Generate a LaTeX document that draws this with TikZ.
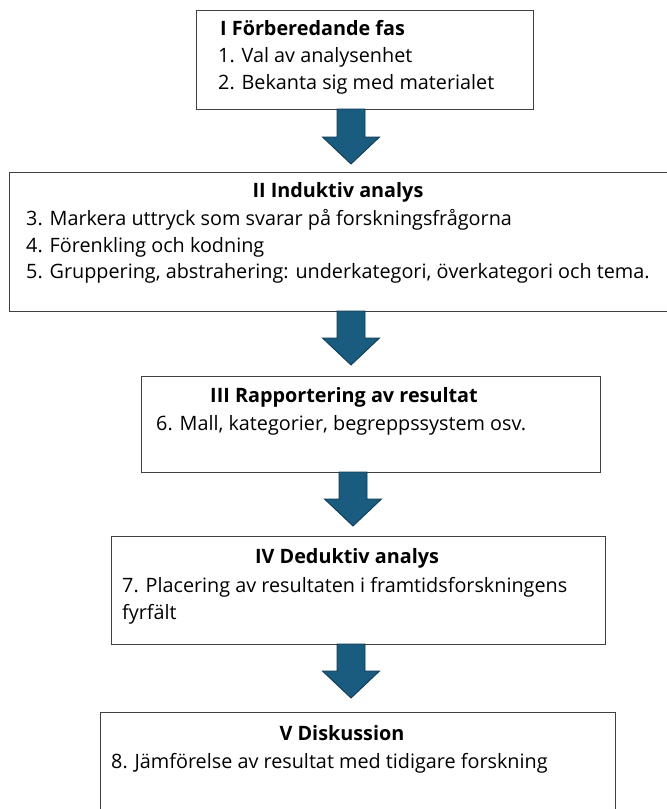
\documentclass[tikz,border=0pt]{standalone}
\usepackage{fontspec}
\setmainfont{Open Sans}[Ligatures=NoCommon]
\usetikzlibrary{calc}
\definecolor{arrowfill}{HTML}{1A5C80}
\definecolor{arrowline}{HTML}{0F3A52}
\definecolor{boxline}{HTML}{404040}
\tikzset{
  stagebox/.style={draw=boxline, line width=1.2pt, fill=white, rectangle, inner sep=0pt, anchor=north west},
  txt/.style={anchor=base west, inner sep=0pt, font=\fontsize{19.8}{22}\selectfont},
  ttl/.style={anchor=base, inner sep=0pt, font=\fontsize{19.8}{22}\selectfont\bfseries},
  blockarrow/.style={fill=arrowfill, draw=arrowline, line width=0.9pt, line join=miter},
}
\newcommand{\stagearrow}[2]{%
  \draw[blockarrow] let \p1=(#1), \p2=(#2) in
    (\x1-14pt,\y1) -- (\x1-14pt,\y2+27pt) -- (\x1-28.5pt,\y2+27pt) -- (\x2,\y2)
    -- (\x1+28.5pt,\y2+27pt) -- (\x1+14pt,\y2+27pt) -- (\x1+14pt,\y1) -- cycle;}
\begin{document}
\begin{tikzpicture}[x=1pt,y=-1pt]
\useasboundingbox (0,0) rectangle (667,809);
\clip (0,0) rectangle (667,809);
% boxes
\node[stagebox, minimum width=337pt, minimum height=99pt] (b1) at (196,10) {};
\node[stagebox, minimum width=680pt, minimum height=139pt] (b2) at (9,172) {};
\node[stagebox, minimum width=459pt, minimum height=96pt] (b3) at (141,376) {};
\node[stagebox, minimum width=494pt, minimum height=108pt] (b4) at (111,536) {};
\node[stagebox, minimum width=515pt, minimum height=120pt] (b5) at (100,712) {};
% texts box I
\node[txt, font=\fontsize{19.8}{22}\selectfont\bfseries] (t1) at (220,35) {I Förberedande fas};
\node[txt] (t1a) at (218,62) {1. Val av analysenhet};
\node[txt] (t1b) at (218,89) {2. Bekanta sig med materialet};
% box II
\node[ttl] (t2) at (338,197) {II Induktiv analys};
\node[txt] (t2a) at (26,225) {3. Markera uttryck som svarar på forskningsfrågorna};
\node[txt] (t2b) at (26,252) {4. Förenkling och kodning};
\node[txt] (t2c) at (26,278) {5. Gruppering, abstrahering: underkategori, överkategori och tema.};
% box III
\node[ttl] (t3) at (344,402) {III Rapportering av resultat};
\node[txt] (t3a) at (156,430) {6. Mall, kategorier, begreppssystem osv.};
% box IV
\node[ttl] (t4) at (347,563) {IV Deduktiv analys};
\node[txt] (t4a) at (122,592) {7. Placering av resultaten i framtidsforskningens};
\node[txt] (t4b) at (122,619) {fyrfält};
% box V
\node[ttl] (t5) at (342,740) {V Diskussion};
\node[txt] (t5a) at (111,768) {8. Jämförelse av resultat med tidigare forskning};
% arrows
\coordinate (a1s) at (351,109); \coordinate (a1e) at (351,164);
\coordinate (a2s) at (351,311); \coordinate (a2e) at (351,365);
\coordinate (a3s) at (353,472); \coordinate (a3e) at (353,526);
\coordinate (a4s) at (351,644); \coordinate (a4e) at (351,698);
\stagearrow{a1s}{a1e}
\stagearrow{a2s}{a2e}
\stagearrow{a3s}{a3e}
\stagearrow{a4s}{a4e}
\end{tikzpicture}
\end{document}
